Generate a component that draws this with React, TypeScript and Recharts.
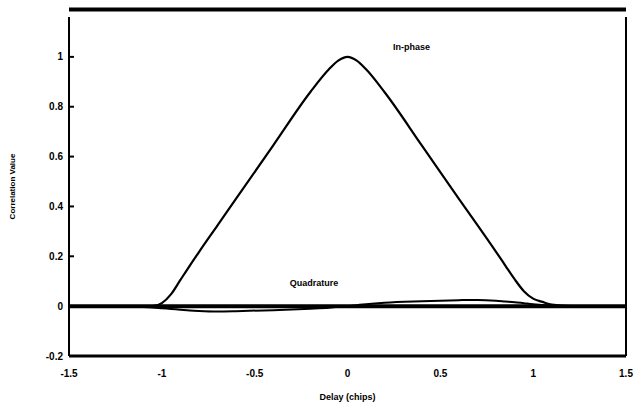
import {
  LineChart,
  Line,
  XAxis,
  YAxis,
  ReferenceLine,
  ReferenceDot,
} from "recharts";

// delay in chips
const delays = [
  -1.5, -1.25, -1.1, -1.05, -1.0, -0.95, -0.9, -0.85, -0.8, -0.7, -0.6, -0.4, -0.2, -0.1, -0.05, 0,
  0.05, 0.1, 0.2, 0.4, 0.6, 0.7, 0.8, 0.85, 0.9, 0.95, 1.0, 1.05, 1.1, 1.2, 1.5,
];
const inPhase = [
  0, 0, 0, 0, 0.012, 0.048, 0.105, 0.162, 0.217, 0.324, 0.431, 0.645, 0.859, 0.95, 0.985, 1.0,
  0.985, 0.95, 0.858, 0.645, 0.43, 0.325, 0.218, 0.163, 0.108, 0.06, 0.03, 0.017, 0.006, 0, 0,
];
const quadrature = [
  0, 0, -0.003, -0.005, -0.008, -0.011, -0.014, -0.017, -0.019, -0.021, -0.02, -0.016, -0.01, -0.006, -0.003, 0,
  0.004, 0.008, 0.014, 0.02, 0.024, 0.025, 0.022, 0.019, 0.016, 0.012, 0.008, 0.005, 0.002, 0, 0,
];

const xTicks = [-1.5, -1, -0.5, 0, 0.5, 1, 1.5];
const yTicks = [-0.2, 0, 0.2, 0.4, 0.6, 0.8, 1];

const data = delays.map((d, i) => ({ delay: d, inPhase: inPhase[i], quadrature: quadrature[i] }));

const font = "'Liberation Sans', Arial, sans-serif";
const tickStyle = { fontSize: 10, fontWeight: 700, fill: "#000", fontFamily: font };
const textStyle = { fontSize: 9, fontWeight: 700, fill: "#000", fontFamily: font };

export default function App() {
  return (
    <div style={{ width: 635, height: 411, background: "#fff" }}>
      <style>{`body{margin:0}`}</style>
      <LineChart
        width={635}
        height={411}
        data={data}
        margin={{ top: 17, right: 8, bottom: 25, left: 0 }}
      >
        <XAxis
          dataKey="delay"
          type="number"
          domain={[-1.5, 1.5]}
          ticks={xTicks}
          tickLine={false}
          axisLine={{ stroke: "#000", strokeWidth: 3 }}
          tick={tickStyle}
          tickMargin={8}
          height={30}
          label={{ value: "Delay (chips)", position: "insideBottom", offset: -14, style: textStyle }}
        />
        <YAxis
          yAxisId="left"
          type="number"
          domain={[-0.2, 1.16]}
          ticks={yTicks}
          width={69}
          tickSize={-5}
          tickMargin={11}
          tickLine={{ stroke: "#000", strokeWidth: 2 }}
          axisLine={{ stroke: "#000", strokeWidth: 2 }}
          tick={tickStyle}
          label={{
            value: "Correlation Value",
            angle: -90,
            position: "insideLeft",
            offset: 12,
            style: { ...textStyle, fontSize: 8, textAnchor: "middle" },
          }}
        />
        <YAxis
          yAxisId="right"
          orientation="right"
          type="number"
          domain={[-0.2, 1.16]}
          ticks={yTicks}
          width={1}
          tickSize={-5}
          tickLine={{ stroke: "#000", strokeWidth: 2 }}
          axisLine={{ stroke: "#000", strokeWidth: 2 }}
          tickFormatter={() => ""}
        />
        <ReferenceLine yAxisId="left" y={0} stroke="#000" strokeWidth={4} />
        <ReferenceLine yAxisId="left" y={1.19} stroke="#000" strokeWidth={4} ifOverflow="visible" />
        <Line
          yAxisId="left"
          type="monotone"
          dataKey="inPhase"
          stroke="#000"
          strokeWidth={2.2}
          dot={false}
          isAnimationActive={false}
        />
        <Line
          yAxisId="left"
          type="monotone"
          dataKey="quadrature"
          stroke="#000"
          strokeWidth={2}
          dot={false}
          isAnimationActive={false}
        />
        <ReferenceDot
          yAxisId="left"
          x={0.345}
          y={1.04}
          r={0}
          stroke="none"
          fill="none"
          label={{ value: "In-phase", position: "center", style: textStyle }}
        />
        <ReferenceDot
          yAxisId="left"
          x={-0.18}
          y={0.092}
          r={0}
          stroke="none"
          fill="none"
          label={{ value: "Quadrature", position: "center", style: textStyle }}
        />
      </LineChart>
    </div>
  );
}
